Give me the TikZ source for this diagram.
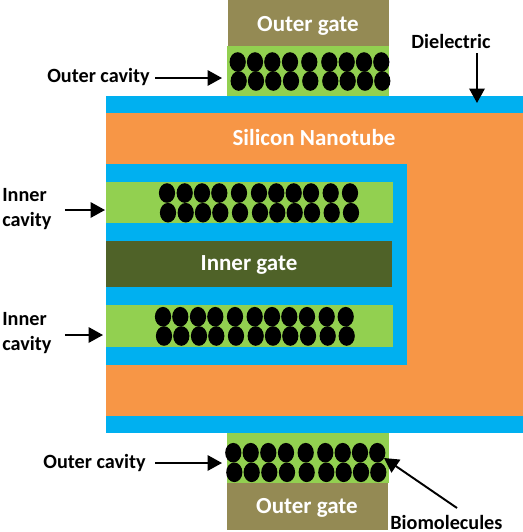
\documentclass[tikz,border=0pt]{standalone}
\usepackage{fontspec}
\setmainfont{Carlito}
\usetikzlibrary{arrows.meta}
\definecolor{siorange}{RGB}{247,150,70}
\definecolor{dielblue}{RGB}{0,176,240}
\definecolor{cavgreen}{RGB}{146,208,80}
\definecolor{outergate}{RGB}{148,138,84}
\definecolor{innergate}{RGB}{79,98,40}
\tikzset{
  lbl/.style={font=\bfseries\fontsize{11.5}{14.7}\selectfont, text=black, align=left, inner sep=0pt},
  lblwhite/.style={font=\bfseries\fontsize{13.1}{15}\selectfont, text=white, inner sep=0pt},
  pointer/.style={draw=black, line width=1.1pt, -{Triangle[length=2.9mm, width=3.1mm]}},
  molecule/.style={fill=black}
}
\begin{document}
\begin{tikzpicture}[x=0.02cm, y=-0.02cm]
\useasboundingbox (0,0) rectangle (523,532);
% layers
\fill[dielblue] (106,96) rectangle (523,433);
\fill[siorange] (106,113) rectangle (523,416);
\fill[dielblue] (106,164) rectangle (407,365);
\fill[cavgreen] (106,182) rectangle (393,223);
\fill[innergate] (106,241) rectangle (392,287);
\fill[cavgreen] (106,305) rectangle (393,347);
\fill[outergate] (228,0) rectangle (389,46);
\fill[cavgreen] (227,46) rectangle (389,96);
\fill[cavgreen] (227,433) rectangle (389,483);
\fill[outergate] (227,483) rectangle (388,530);
% biomolecules
\foreach \x in {237.7,255,272.3,290,309.3,329.3,346.7,364,381.3} {
  \fill[molecule] (\x,62) ellipse (8.1 and 9.8);
  \fill[molecule] (\x+1,81) ellipse (8.1 and 9.8);
}
\foreach \x in {167,184.7,202,219.3,239,259,276.3,293.7,311,330.7,350} {
  \fill[molecule] (\x,193) ellipse (8.1 and 9.8);
  \fill[molecule] (\x+1,212.7) ellipse (8.1 and 9.8);
}
\foreach \x in {163,180.3,198,215.3,235,254.7,272,289.3,307,326.7,345.7} {
  \fill[molecule] (\x,316.7) ellipse (8.1 and 9.8);
  \fill[molecule] (\x+1,336) ellipse (8.1 and 9.8);
}
\foreach \x in {233.3,250.7,268.3,286,305.7,325.3,342.7,360,377.3} {
  \fill[molecule] (\x,452.7) ellipse (8.1 and 9.8);
  \fill[molecule] (\x+1,472.3) ellipse (8.1 and 9.8);
}
% labels
\node[lblwhite] (gatetop) at (308,26) {Outer gate};
\node[lblwhite] (gatebot) at (307,508) {Outer gate};
\node[lblwhite] (gatein) at (249,265) {Inner gate};
\node[lblwhite] (nanotube) at (314,138) {Silicon Nanotube};
\node[lbl] (dielectric) at (451,41) {Dielectric};
\node[lbl, anchor=east] (cavtop) at (150,77) {Outer cavity};
\node[lbl, anchor=east] (cavbot) at (146,463) {Outer cavity};
\node[lbl, anchor=west] (innertop) at (2,209) {Inner\\cavity};
\node[lbl, anchor=west] (innerbot) at (2,333) {Inner\\cavity};
\node[lbl, anchor=west] (biomol) at (390,522.5) {Biomolecules};
% arrow ends
\coordinate (diel) at (477,103);
\coordinate (dieltail) at (477,53);
\coordinate (cavtopend) at (222,78);
\coordinate (cavbotend) at (222,463);
\coordinate (innertopend) at (105,210);
\coordinate (innertoptail) at (65,210);
\coordinate (innerbotend) at (103,335);
\coordinate (innerbottail) at (65,335);
\coordinate (biotail) at (457,508);
\coordinate (bioend) at (384,458);
\draw[pointer] (dieltail) -- (diel);
\draw[pointer] (cavtop.east |- cavtopend) ++(5,0) -- (cavtopend);
\draw[pointer] (cavbot.east |- cavbotend) ++(9,0) -- (cavbotend);
\draw[pointer] (innertoptail) -- (innertopend);
\draw[pointer] (innerbottail) -- (innerbotend);
\draw[pointer] (biotail) -- (bioend);
\end{tikzpicture}
\end{document}
